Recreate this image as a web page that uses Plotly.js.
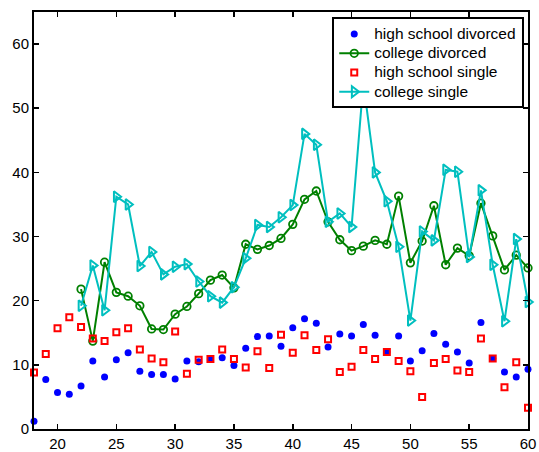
<!DOCTYPE html>
<html>
<head>
<meta charset="utf-8">
<script src="https://cdn.plot.ly/plotly-3.0.1.min.js"></script>
<style>html,body{margin:0;padding:0;background:#fff;}#chart{width:539px;height:452px;}</style>
</head>
<body>
<div id="chart"></div>
<script>
const agesAll = [18,19,20,21,22,23,24,25,26,27,28,29,30,31,32,33,34,35,36,37,38,39,40,41,42,43,44,45,46,47,48,49,50,51,52,53,54,55,56,57,58,59,60];
const agesCollege = [22,23,24,25,26,27,28,29,30,31,32,33,34,35,36,37,38,39,40,41,42,43,44,45,46,47,48,49,50,51,52,53,54,55,56,57,58,59,60];
const highSchoolDivorced = [1.2,7.7,5.7,5.4,6.7,10.6,8.1,10.8,11.9,9.0,8.5,8.5,7.8,10.6,10.5,10.9,11.1,9.9,12.6,14.4,14.5,12.9,15.8,17.2,16.5,12.8,14.8,14.5,16.3,14.6,12.0,14.5,10.6,12.2,14.9,13.2,12.0,10.3,16.6,11.0,8.9,8.1,9.3];
const highSchoolSingle = [8.8,11.7,15.7,17.4,15.9,14.1,13.7,15.1,15.7,12.4,11.0,10.4,15.2,8.6,10.8,10.9,12.4,10.9,9.6,12.1,9.5,14.7,11.9,14.6,12.3,14.0,8.9,9.7,12.3,10.9,12.0,10.6,9.0,5.0,10.3,10.9,9.1,8.9,14.1,11.0,6.5,10.4,3.3];
const collegeDivorced = [21.8,13.7,26.0,21.3,20.7,19.2,15.6,15.5,17.9,19.1,21.1,23.2,24.0,22.0,28.8,28.0,28.6,29.7,31.9,35.8,37.1,32.3,29.5,27.8,28.5,29.4,28.8,36.3,25.9,29.3,34.8,25.6,28.2,27.0,35.2,30.1,24.8,27.1,25.1];
const collegeSingle = [19.2,25.5,18.5,36.2,35.0,25.4,27.6,24.1,25.3,25.7,23.0,20.7,19.7,22.1,26.6,31.8,31.5,33.0,34.9,46.0,44.3,32.3,33.6,31.5,54.0,40.0,35.5,28.4,16.9,30.8,29.4,40.4,40.1,26.8,37.2,25.6,16.8,29.6,19.8];
const seriesNames = ["high school divorced","college divorced","high school single","college single"];
const xTicks = [20,25,30,35,40,45,50,55,60];
const yTicks = [0,10,20,30,40,50,60];

const traces = [
  {x: agesAll, y: highSchoolDivorced, name: seriesNames[0], type: 'scatter', mode: 'markers',
   marker: {symbol: 'circle', size: 7, color: '#0000ff'}, cliponaxis: false},
  {x: agesCollege, y: collegeDivorced, name: seriesNames[1], type: 'scatter', mode: 'lines+markers',
   line: {color: '#008000', width: 2},
   marker: {symbol: 'circle-open', size: 7.5, color: '#008000', line: {width: 1.8, color: '#008000'}}, cliponaxis: false},
  {x: agesAll, y: highSchoolSingle, name: seriesNames[2], type: 'scatter', mode: 'markers',
   marker: {symbol: 'square-open', size: 6, color: '#ff0000', line: {width: 2, color: '#ff0000'}}, cliponaxis: false},
  {x: agesCollege, y: collegeSingle, name: seriesNames[3], type: 'scatter', mode: 'lines+markers',
   line: {color: '#00bfbf', width: 2},
   marker: {symbol: 'triangle-right-open', size: 9.5, color: '#00bfbf', line: {width: 2, color: '#00bfbf'}}, cliponaxis: false}
];

const axisCommon = {
  showline: true, linecolor: '#000', linewidth: 2, mirror: 'ticks',
  ticks: 'inside', ticklen: 5, tickwidth: 1.5, tickcolor: '#000',
  showgrid: false, zeroline: false,
  tickfont: {family: 'Liberation Sans, Arial, sans-serif', size: 15, color: '#000'}
};

const layout = {
  width: 539, height: 452,
  margin: {l: 33.5, r: 10.5, t: 11.5, b: 22.5, pad: 0},
  paper_bgcolor: '#fff', plot_bgcolor: '#fff',
  showlegend: true,
  xaxis: Object.assign({}, axisCommon, {range: [18, 60], tickvals: xTicks, ticktext: xTicks.map(String)}),
  yaxis: Object.assign({}, axisCommon, {range: [0, 65], tickvals: yTicks, ticktext: yTicks.map(String)}),
  legend: {x: 0.991, y: 0.987, xanchor: 'right', yanchor: 'top',
    bgcolor: '#fff', bordercolor: '#000', borderwidth: 2,
    font: {family: 'Liberation Sans, Arial, sans-serif', size: 12.5, color: '#000'},
    tracegroupgap: 0}
};

const gd = document.getElementById('chart');
Plotly.newPlot(gd, traces, layout, {displayModeBar: false, staticPlot: true}).then(function () {
  // enlarge legend text while keeping compact row spacing
  const leg = gd.querySelector('g.legend');
  if (!leg) return;
  const texts = leg.querySelectorAll('text.legendtext');
  let before = 0, after = 0;
  texts.forEach(t => { before = Math.max(before, t.getBBox().width); });
  texts.forEach(t => { t.style.fontSize = '15.5px'; });
  texts.forEach(t => { after = Math.max(after, t.getBBox().width); });
  const dw = after - before;
  leg.querySelectorAll('rect.bg').forEach(r => {
    r.setAttribute('width', parseFloat(r.getAttribute('width')) + dw);
  });
  gd.querySelectorAll('clipPath[id^="legend"] rect').forEach(r => {
    r.setAttribute('width', parseFloat(r.getAttribute('width')) + dw);
  });
  const tr = leg.getAttribute('transform') || '';
  const m = tr.match(/translate\(\s*([-\d.]+)[ ,]+([-\d.]+)\s*\)/);
  if (m) leg.setAttribute('transform', 'translate(' + (parseFloat(m[1]) - dw) + ',' + m[2] + ')');
});
</script>
</body>
</html>
